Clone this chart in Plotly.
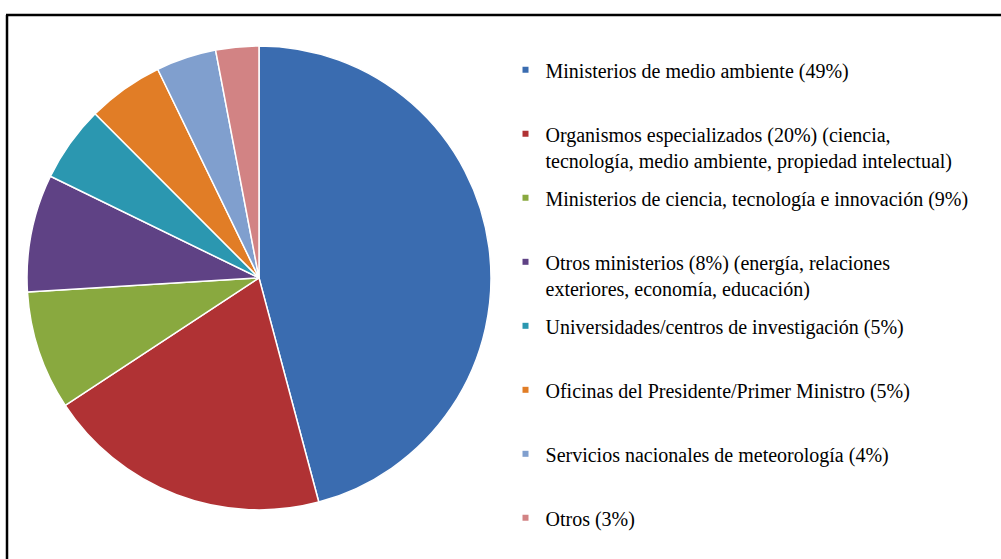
import plotly.graph_objects as go

categories = [
    "Ministerios de medio ambiente (49%)",
    "Organismos especializados (20%) (ciencia,<br>tecnología, medio ambiente, propiedad intelectual)",
    "Ministerios de ciencia, tecnología e innovación (9%)",
    "Otros ministerios (8%) (energía, relaciones<br>exteriores, economía, educación)",
    "Universidades/centros de investigación (5%)",
    "Oficinas del Presidente/Primer Ministro (5%)",
    "Servicios nacionales de meteorología (4%)",
    "Otros (3%)",
]
values = [45.9, 19.9, 8.3, 8.2, 5.3, 5.3, 4.2, 3.0]
colors = ["#3A6CB0", "#B03234", "#89A93F", "#5F4285",
          "#2B97B0", "#E17D26", "#809FCE", "#D28384"]

FONT = "Liberation Serif, Times New Roman, serif"

fig = go.Figure()
fig.add_trace(go.Pie(
    labels=categories,
    values=values,
    sort=False,
    direction="clockwise",
    rotation=0,
    textinfo="none",
    hoverinfo="label+percent",
    showlegend=False,
    marker=dict(colors=colors, line=dict(color="white", width=1.5)),
    domain=dict(x=[0.027, 0.4905], y=[0.0877, 0.918]),
))

# legend entries (small square keys), one group per category so that
# every entry occupies the same slot height (last one needs no padding)
last = len(categories) - 1
for i, (lab, col) in enumerate(zip(categories, colors)):
    text = lab if ("<br>" in lab or i == last) else lab + "<br>&nbsp;"
    fig.add_trace(go.Scatter(
        x=[None], y=[None], mode="markers", name=text,
        legendgroup=f"g{i}", showlegend=True, hoverinfo="skip",
        marker=dict(symbol="square", size=6, color=col),
    ))

fig.update_layout(
    width=1001, height=559,
    margin=dict(l=0, r=0, t=0, b=0),
    paper_bgcolor="white", plot_bgcolor="white",
    font=dict(family=FONT, size=20, color="black"),
    xaxis=dict(visible=False), yaxis=dict(visible=False),
    legend=dict(
        x=0.505, y=0.91, xanchor="left", yanchor="top",
        valign="top", tracegroupgap=9, traceorder="grouped",
        font=dict(size=20, family=FONT, color="black"),
        bgcolor="rgba(0,0,0,0)",
    ),
    shapes=[
        dict(type="line", xref="paper", yref="paper", x0=0.006, x1=1.0,
             y0=1 - 15 / 559, y1=1 - 15 / 559, line=dict(color="black", width=2.5)),
        dict(type="line", xref="paper", yref="paper", x0=0.007, x1=0.007,
             y0=0, y1=1 - 15 / 559, line=dict(color="black", width=2.5)),
    ],
)

fig.write_html("out.html", config={"displayModeBar": False},
               post_script="document.body.style.margin='0px';")
